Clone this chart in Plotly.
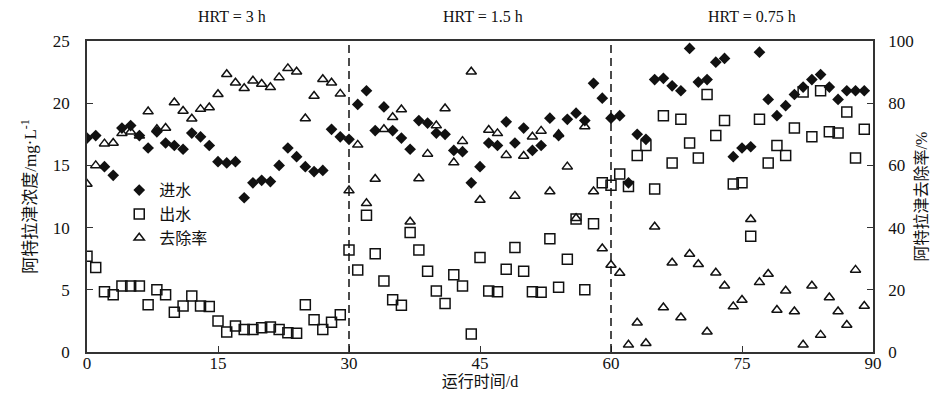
import plotly.graph_objects as go

days = list(range(90))

influent = [17.2, 17.4, 14.9, 14.2, 18.0, 18.2, 17.4, 16.4, 17.7, 16.8,
            16.6, 16.3, 17.6, 17.3, 16.6, 15.3, 15.2, 15.3, 12.4, 13.6,
            13.8, 13.7, 15.0, 16.4, 15.7, 14.9, 14.5, 14.6, 17.9, 17.3,
            17.1, 19.9, 21.0, 17.8, 19.7, 17.8, 17.2, 16.3, 18.6, 18.4,
            17.6, 17.5, 16.2, 16.1, 13.6, 14.9, 16.8, 16.6, 18.5, 16.8,
            18.0, 16.2, 16.6, 18.8, 17.4, 18.7, 19.2, 18.6, 21.6, 20.4,
            18.8, 19.0, 13.6, 17.5, 17.1, 21.9, 22.0, 21.4, 21.0, 24.4,
            21.7, 21.9, 23.3, 23.6, 15.7, 16.4, 16.5, 24.1, 20.3, 19.0,
            19.8, 20.7, 21.3, 21.9, 22.3, 21.3, 20.3, 21.0, 21.0, 21.0]

effluent = [7.7, 6.8, 4.85, 4.6, 5.3, 5.3, 5.3, 3.8, 5.0, 4.6,
            3.2, 3.7, 4.5, 3.7, 3.65, 2.5, 1.6, 2.1, 1.8, 1.8,
            1.95, 2.0, 1.8, 1.55, 1.5, 3.8, 2.6, 1.8, 2.4, 3.0,
            8.2, 6.6, 11.0, 7.9, 5.7, 4.2, 3.75, 9.6, 8.2, 6.5,
            4.9, 3.9, 6.2, 5.3, 1.45, 7.6, 4.9, 4.85, 6.65, 8.4,
            6.5, 4.85, 4.8, 9.1, 5.2, 7.45, 10.7, 5.0, 10.3, 13.6,
            13.4, 14.3, 13.3, 15.8, 16.6, 13.1, 19.0, 15.2, 18.7, 16.8,
            15.6, 20.7, 17.4, 18.6, 13.5, 13.6, 9.3, 18.7, 15.2, 16.6,
            15.8, 18.0, 20.9, 17.3, 21.0, 17.7, 17.6, 19.3, 15.6, 17.9]

removal = [54.0, 60.0, 67.0, 67.2, 70.3, 70.8, 69.5, 77.3, 71.6, 72.0,
           80.2, 77.5, 75.0, 78.1, 78.6, 82.9, 89.3, 86.6, 84.8, 87.2,
           86.2, 85.1, 88.3, 91.2, 90.1, 75.1, 82.3, 87.7, 86.6, 83.0,
           51.9, 66.6, 47.8, 55.6, 71.6, 75.5, 78.0, 41.9, 55.8, 63.7,
           72.8, 78.3, 60.9, 67.8, 90.1, 48.9, 71.4, 70.3, 63.3, 50.2,
           63.0, 69.2, 71.1, 51.6, 70.0, 59.6, 43.0, 72.5, 51.6, 33.3,
           28.0, 25.4, 2.3, 9.4, 2.8, 40.3, 14.3, 28.7, 11.1, 31.5,
           28.2, 6.5, 25.5, 21.3, 14.6, 16.7, 42.7, 22.4, 25.1, 13.5,
           19.7, 13.0, 2.3, 21.3, 5.5, 17.5, 13.0, 8.7, 26.4, 14.8]

series_names = ["进水", "出水", "去除率"]
hrt_labels = ["HRT = 3 h", "HRT = 1.5 h", "HRT = 0.75 h"]
hrt_label_x = [16.6, 45.3, 76.1]
stage_bounds = [30, 60]

FONT = "Liberation Serif, Times New Roman, Noto Sans CJK SC, serif"
BLACK = "#111111"

fig = go.Figure()
fig.add_trace(go.Scatter(
    x=days, y=influent, mode="markers", name=series_names[0],
    marker=dict(symbol="diamond", size=9, color=BLACK, line=dict(width=0)),
))
fig.add_trace(go.Scatter(
    x=days, y=effluent, mode="markers", name=series_names[1],
    marker=dict(symbol="square-open", size=10, color=BLACK, line=dict(width=1.5, color=BLACK)),
))
fig.add_trace(go.Scatter(
    x=days, y=removal, mode="markers", name=series_names[2], yaxis="y2",
    marker=dict(symbol="triangle-up-open", size=9, color=BLACK, line=dict(width=1.5, color=BLACK)),
))

for xb in stage_bounds:
    fig.add_shape(type="line", xref="x", yref="y", x0=xb, x1=xb, y0=0, y1=25,
                  line=dict(color=BLACK, width=1.5, dash="8px,5px"))

for lx, lt in zip(hrt_label_x, hrt_labels):
    fig.add_annotation(x=lx, xref="x", y=1.0, yref="paper", yanchor="middle", yshift=25,
                       text=lt, showarrow=False,
                       font=dict(family=FONT, size=16, color=BLACK))

axis_common = dict(
    showline=True, linecolor="#333333", linewidth=1.5,
    ticks="inside", ticklen=6, tickwidth=1, tickcolor="#333333",
    showgrid=False, zeroline=False, automargin=False,
    tickfont=dict(family=FONT, size=17, color=BLACK),
)

fig.update_layout(
    width=932, height=403,
    margin=dict(l=87, r=59, t=41, b=51),
    paper_bgcolor="white", plot_bgcolor="white",
    font=dict(family=FONT, color=BLACK),
    showlegend=True,
    legend=dict(x=0.041, y=0.575, xanchor="left", yanchor="top",
                bgcolor="rgba(0,0,0,0)", font=dict(family=FONT, size=16, color=BLACK),
                itemsizing="trace", tracegroupgap=0),
    xaxis=dict(range=[0, 90], tickvals=[0, 15, 30, 45, 60, 75, 90],
               mirror=True, ticklabelstandoff=-5,
               title=dict(text="运行时间/d", font=dict(family=FONT, size=16, color=BLACK), standoff=2),
               **axis_common),
    yaxis=dict(range=[0, 25], tickvals=[0, 5, 10, 15, 20, 25],
               ticklabelstandoff=12,
               title=dict(text="阿特拉津浓度/mg·L<sup>-1</sup>", font=dict(family=FONT, size=17, color=BLACK), standoff=12),
               **axis_common),
    yaxis2=dict(range=[0, 100], tickvals=[0, 20, 40, 60, 80, 100],
                overlaying="y", side="right", ticklabelstandoff=10,
                title=dict(text="阿特拉津去除率/%", font=dict(family=FONT, size=16, color=BLACK), standoff=3),
                **axis_common),
)

fig.write_html("out.html", config={"displayModeBar": False},
               post_script="document.body.style.margin='0';document.body.style.overflow='hidden';")
